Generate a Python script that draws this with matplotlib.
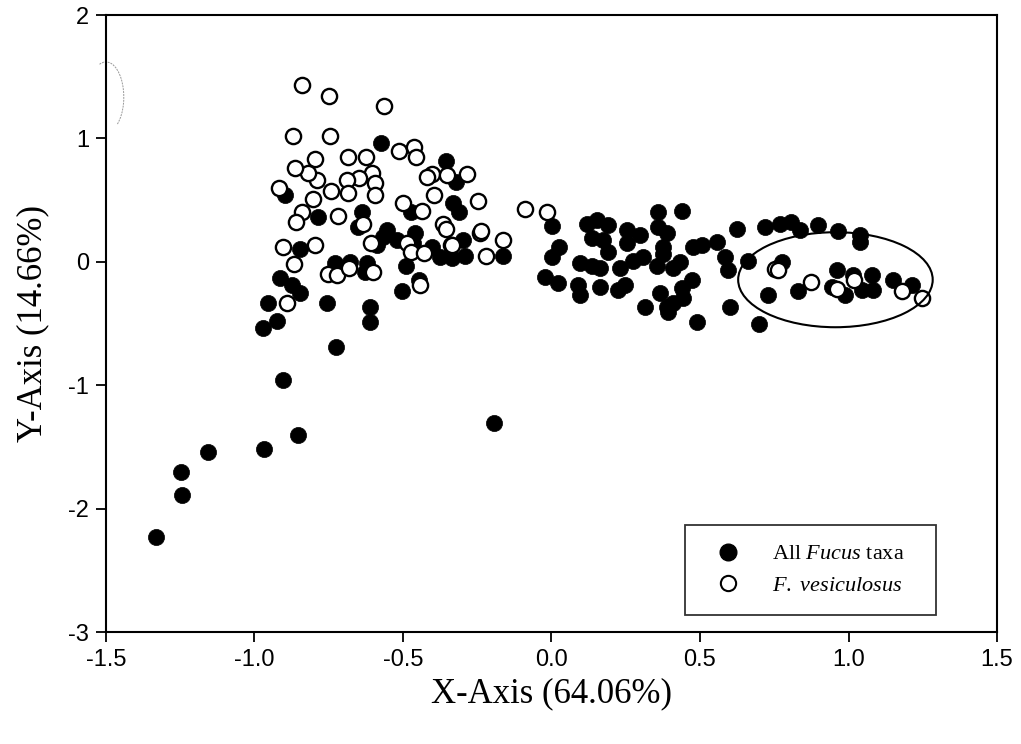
import matplotlib
matplotlib.use("Agg")
import matplotlib.pyplot as plt
from matplotlib.patches import Ellipse, Arc
from matplotlib.lines import Line2D

# ---- data: All Fucus taxa (filled) ----
all_x = [-1.332, -1.244, -1.247, -1.157, -0.968, -0.854, -0.904, -0.971, -0.924, -0.955,
         -0.847, -0.874, -0.914, -0.847, -0.726, -0.756, -0.611, -0.611, -0.503, -0.446,
         -0.490, -0.194, -0.729, -0.678, -0.628, -0.621, -0.375, -0.335, -0.291, -0.163,
         -0.298, -0.574, -0.355, -0.322, -0.332, -0.311, -0.473, -0.786, -0.638, -0.652,
         -0.554, -0.460, -0.897, -0.567, -0.520, -0.466, -0.402, -0.587,
         0.002, 0.025, 0.002, -0.022, 0.022, 0.120, 0.153, 0.190, 0.136, 0.173,
         0.254, 0.298, 0.254, 0.190, 0.096, 0.136, 0.163, 0.231, 0.274, 0.308,
         0.355, 0.089, 0.096, 0.163, 0.224, 0.247, 0.359, 0.439, 0.359, 0.389,
         0.375, 0.375, 0.433, 0.409, 0.476, 0.507, 0.557, 0.473, 0.439, 0.365,
         0.443, 0.409, 0.389, 0.392, 0.315, 0.490, 0.625, 0.584, 0.594, 0.601,
         0.662, 0.719, 0.769, 0.806, 0.837, 0.898, 0.965, 1.039, 1.039, 0.776,
         0.729, 0.699, 0.830, 0.961, 0.944, 0.988, 1.015, 1.045, 1.079, 1.082,
         1.150, 1.214]
all_y = [-2.23, -1.89, -1.70, -1.54, -1.52, -1.40, -0.96, -0.54, -0.48, -0.33,
         -0.25, -0.19, -0.13, 0.10, -0.69, -0.33, -0.49, -0.37, -0.24, -0.15,
         -0.03, -1.31, -0.01, 0.00, -0.08, -0.01, 0.04, 0.03, 0.05, 0.05,
         0.18, 0.96, 0.82, 0.65, 0.48, 0.40, 0.40, 0.36, 0.40, 0.28,
         0.26, 0.23, 0.54, 0.20, 0.18, 0.15, 0.12, 0.14,
         0.29, 0.12, 0.04, -0.12, -0.17, 0.31, 0.34, 0.30, 0.19, 0.18,
         0.26, 0.22, 0.15, 0.08, -0.01, -0.03, -0.05, -0.05, 0.01, 0.04,
         -0.03, -0.19, -0.27, -0.20, -0.23, -0.19, 0.40, 0.41, 0.28, 0.23,
         0.12, 0.06, 0.00, -0.05, 0.12, 0.14, 0.16, -0.15, -0.21, -0.25,
         -0.29, -0.33, -0.37, -0.41, -0.37, -0.49, 0.27, 0.04, -0.07, -0.37,
         0.01, 0.28, 0.31, 0.32, 0.26, 0.30, 0.25, 0.22, 0.16, 0.00,
         -0.27, -0.50, -0.24, -0.07, -0.20, -0.27, -0.11, -0.23, -0.11, -0.23,
         -0.15, -0.19]

# ---- data: F. vesiculosus (open) ----
ves_x = [-0.890, -0.867, -0.904, -0.796, -0.753, -0.722, -0.682, -0.601, -0.443, -0.487,
         -0.473, -0.429, -0.220, -0.338, -0.241, -0.163, -0.608, -0.840, -0.749, -0.564,
         -0.746, -0.870, -0.513, -0.463, -0.456, -0.402, -0.419, -0.352, -0.285, -0.396,
         -0.247, -0.500, -0.436, -0.365, -0.355, -0.237, -0.335, -0.685, -0.624, -0.796,
         -0.604, -0.648, -0.688, -0.594, -0.594, -0.685, -0.742, -0.790, -0.820, -0.803,
         -0.719, -0.635, -0.864, -0.918, -0.840, -0.860, -0.089, -0.015,
         0.752, 0.763, 0.874, 0.961, 1.019, 1.180, 1.248]
ves_y = [-0.33, -0.02, 0.12, 0.14, -0.10, -0.11, -0.05, -0.08, -0.19, 0.15,
         0.08, 0.07, 0.05, 0.14, 0.23, 0.18, 0.15, 1.43, 1.34, 1.26,
         1.02, 1.02, 0.90, 0.93, 0.85, 0.71, 0.69, 0.70, 0.71, 0.54,
         0.49, 0.48, 0.41, 0.31, 0.27, 0.25, 0.14, 0.85, 0.85, 0.83,
         0.72, 0.68, 0.66, 0.64, 0.54, 0.56, 0.57, 0.66, 0.72, 0.51,
         0.37, 0.31, 0.76, 0.60, 0.40, 0.32, 0.43, 0.40,
         -0.06, -0.07, -0.16, -0.22, -0.15, -0.24, -0.29]

x_ticks = [-1.5, -1.0, -0.5, 0.0, 0.5, 1.0, 1.5]
x_ticklabels = ["-1.5", "-1.0", "-0.5", "0.0", "0.5", "1.0", "1.5"]
y_ticks = [-3, -2, -1, 0, 1, 2]
y_ticklabels = ["-3", "-2", "-1", "0", "1", "2"]
x_label = "X-Axis (64.06%)"
y_label = "Y-Axis (14.66%)"
legend_labels = [r"All $\it{Fucus}$ taxa", r"$\it{F.\ vesiculosus}$"]

plt.rcParams['mathtext.fontset'] = 'custom'
plt.rcParams['mathtext.it'] = 'Liberation Serif:italic'
plt.rcParams['mathtext.rm'] = 'Liberation Serif'

fig = plt.figure(figsize=(10.21, 7.44), dpi=100)
ax = fig.add_axes([0.1038, 0.1505, 0.8727, 0.8293])

ax.scatter(all_x, all_y, s=135, c='black', edgecolors='black', linewidths=0.5, zorder=3)
ax.scatter(ves_x, ves_y, s=120, c='white', edgecolors='black', linewidths=1.7, zorder=4)

# ellipse highlighting the cluster
ax.add_patch(Ellipse((0.956, -0.145), 0.655, 0.77, fill=False, edgecolor='black',
                     linewidth=1.5, zorder=5))
# faint scan artifact arc near top-left
ax.add_patch(Arc((-1.5, 1.335), 0.12, 0.57, theta1=-80, theta2=95, edgecolor='#999999',
                 linewidth=0.7, linestyle=(0, (2, 1)), clip_on=False, zorder=2))

ax.set_xlim(-1.5, 1.5)
ax.set_ylim(-3, 2)
ax.set_xticks(x_ticks)
ax.set_xticklabels(x_ticklabels, fontfamily='Liberation Sans', fontsize=17)
ax.set_yticks(y_ticks)
ax.set_yticklabels(y_ticklabels, fontfamily='Liberation Sans', fontsize=17)
ax.tick_params(direction='out', length=7, width=1.3, pad=5)
for sp in ax.spines.values():
    sp.set_linewidth(1.5)

ax.set_xlabel(x_label, fontfamily='Liberation Serif', fontsize=25, labelpad=5)
ax.set_ylabel(y_label, fontfamily='Liberation Serif', fontsize=25, labelpad=14)

handles = [
    Line2D([], [], marker='o', linestyle='none', markersize=12, markerfacecolor='black',
           markeredgecolor='black'),
    Line2D([], [], marker='o', linestyle='none', markersize=11, markerfacecolor='white',
           markeredgecolor='black', markeredgewidth=1.5),
]
leg = ax.legend(handles, legend_labels, loc='lower left',
                bbox_to_anchor=(0.6498, 0.0276, 0.2817, 0.15), mode='expand',
                borderaxespad=0, frameon=True, fancybox=False, edgecolor='black',
                prop={'family': 'Liberation Serif', 'size': 16}, handletextpad=0.85,
                borderpad=0.85, labelspacing=0.5, handlelength=2.2)
leg.get_frame().set_linewidth(1.3)
leg.set_zorder(6)

fig.savefig("out.png", dpi=100)
